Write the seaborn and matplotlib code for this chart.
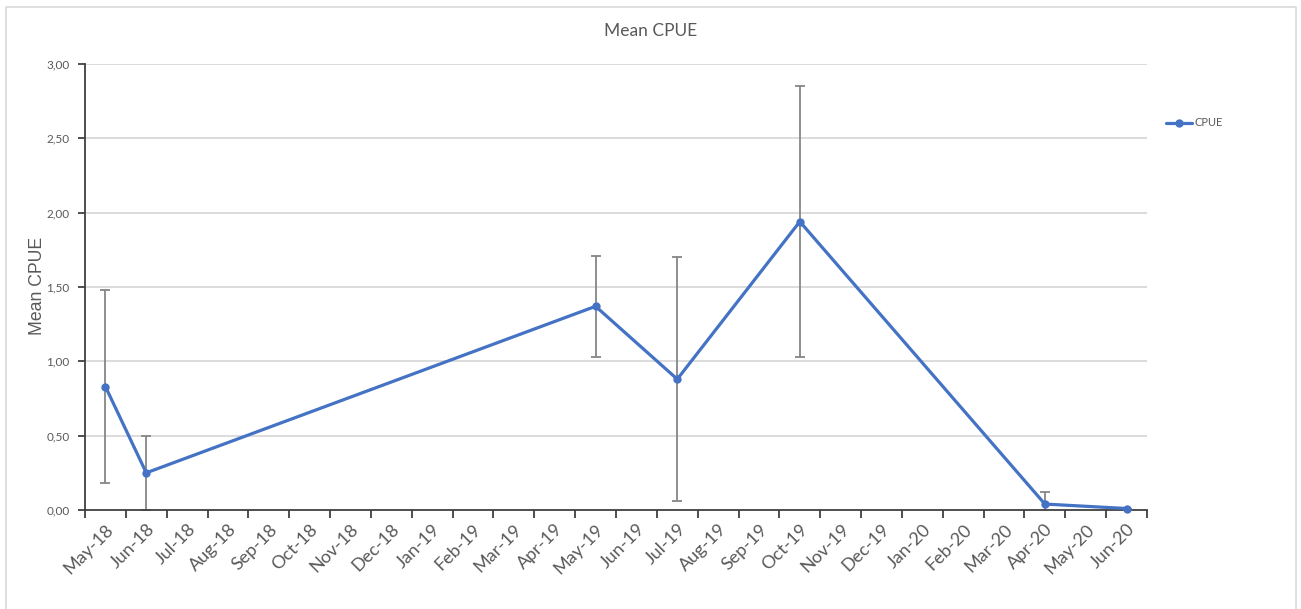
import numpy as np
import pandas as pd
import matplotlib
matplotlib.use("Agg")
import matplotlib.pyplot as plt
import seaborn as sns
from matplotlib.lines import Line2D
from matplotlib.ticker import FixedLocator, FuncFormatter

# Month categories of the date axis
months = ["May-18", "Jun-18", "Jul-18", "Aug-18", "Sep-18", "Oct-18", "Nov-18",
          "Dec-18", "Jan-19", "Feb-19", "Mar-19", "Apr-19", "May-19", "Jun-19",
          "Jul-19", "Aug-19", "Sep-19", "Oct-19", "Nov-19", "Dec-19", "Jan-20",
          "Feb-20", "Mar-20", "Apr-20", "May-20", "Jun-20"]

# Sampling months, mean CPUE and error half-widths
obs_months = ["May-18", "Jun-18", "May-19", "Jul-19", "Oct-19", "Apr-20", "Jun-20"]
mean_cpue = [0.83, 0.25, 1.37, 0.88, 1.94, 0.04, 0.01]
cpue_err = [0.65, 0.25, 0.34, 0.82, 0.91, 0.08, 0.0]

y_ticks = [0.0, 0.5, 1.0, 1.5, 2.0, 2.5, 3.0]

sns.set_theme(style="white")
plt.rcParams["font.family"] = ["Lato", "DejaVu Sans"]

grey_text = "#595959"
line_blue = "#4472C4"

df = pd.DataFrame({
    "month": obs_months,
    "pos": [months.index(m) + 0.5 for m in obs_months],
    "cpue": mean_cpue,
    "err": cpue_err,
})

W, H = 1301, 609
fig = plt.figure(figsize=(W / 100, H / 100), dpi=100)
ax = fig.add_axes([85 / W, 1 - 510 / H, (1147 - 85) / W, (510 - 64) / H])

# chart border (left, top, right edges)
bx0, bx1, by1 = 6 / W, 1296 / W, 1 - 7 / H
fig.lines.append(Line2D([bx0, bx0, bx1, bx1], [0, by1, by1, 0],
                        transform=fig.transFigure, color="#d9d9d9", linewidth=1.2))

# horizontal gridlines
for v in y_ticks[1:]:
    ax.axhline(v, color="#d9d9d9", linewidth=1.3, zorder=0)

# error bars
ax.errorbar(df["pos"], df["cpue"], yerr=df["err"], fmt="none",
            ecolor="#868686", elinewidth=1.3, capsize=3.5, capthick=1.3, zorder=2)

# mean CPUE line
sns.lineplot(data=df, x="pos", y="cpue", ax=ax, color=line_blue, linewidth=2.3,
             marker="o", markersize=6, markeredgewidth=0, label="CPUE",
             zorder=3, clip_on=False)

ax.set_xlim(0, len(months))
ax.set_ylim(0, 3)

# x axis: tick marks at month boundaries, labels centred in each month
ax.xaxis.set_major_locator(FixedLocator(np.arange(0, len(months) + 1)))
ax.xaxis.set_minor_locator(FixedLocator(np.arange(len(months)) + 0.5))
ax.set_xticklabels([""] * (len(months) + 1))
ax.set_xticklabels(months, minor=True, rotation=45, ha="right",
                   rotation_mode="anchor", fontsize=13, color=grey_text)
ax.tick_params(axis="x", which="major", direction="out", length=6, width=1.3,
               color="#404040", bottom=True)
ax.tick_params(axis="x", which="minor", length=0, pad=8)

ax.set_yticks(y_ticks)
ax.yaxis.set_major_formatter(FuncFormatter(lambda v, _: f"{v:.2f}".replace(".", ",")))
ax.tick_params(axis="y", direction="out", length=5, width=1.3, color="#404040",
               left=True, labelsize=8.5, labelcolor=grey_text, pad=6)

for side in ["top", "right"]:
    ax.spines[side].set_visible(False)
for side in ["left", "bottom"]:
    ax.spines[side].set_color("#404040")
    ax.spines[side].set_linewidth(1.3)

ax.set_xlabel("")
ax.set_ylabel("")
fig.text(37 / W, 1 - 286 / H, "Mean CPUE", rotation=90, ha="center", va="center",
         fontsize=12.7, color=grey_text, family="Liberation Sans")
fig.text(651 / W, 1 - 31 / H, "Mean CPUE", ha="center", va="center",
         fontsize=12.5, color=grey_text)

leg = ax.legend(loc="center left", bbox_to_anchor=(1166 / W, 1 - 123 / H),
                bbox_transform=fig.transFigure, frameon=False, fontsize=8,
                handlelength=2.3, handletextpad=0.3, borderpad=0, borderaxespad=0)
for t in leg.get_texts():
    t.set_color(grey_text)

fig.savefig("out.png", dpi=100, facecolor="white")
